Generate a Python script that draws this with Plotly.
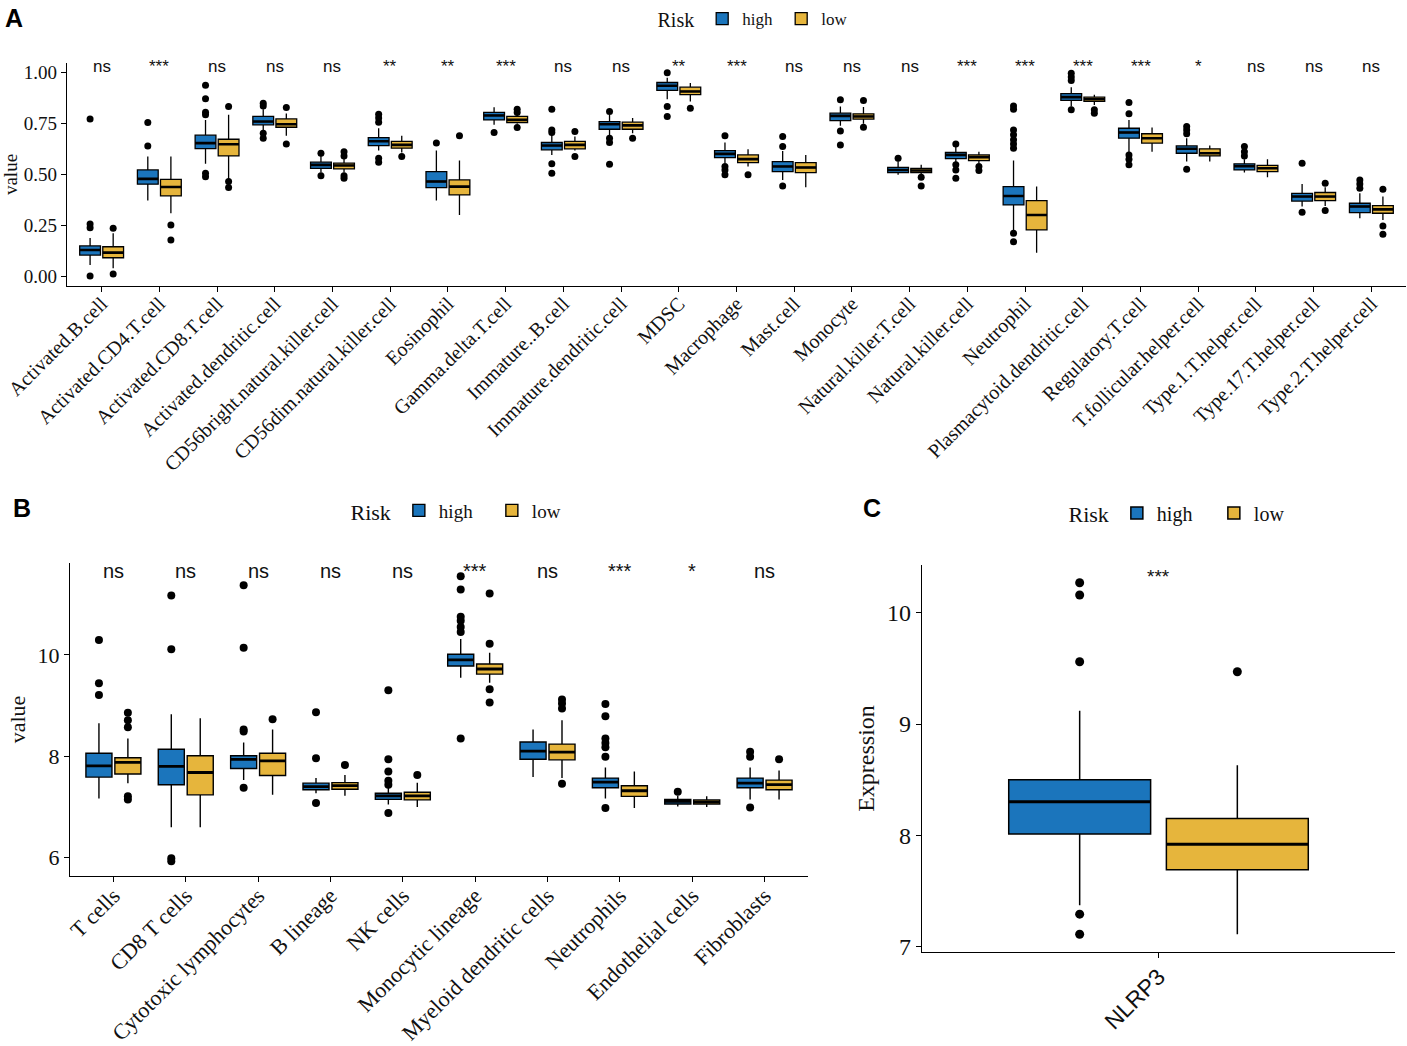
import plotly.graph_objects as go

HIGH_COLOR = "#1B75BC"
LOW_COLOR = "#E6B53C"
SERIF = "Liberation Serif"
SANS = "Liberation Sans"

# ---------------- panel A : ssGSEA immune cells
A_CELLS = [
    "Activated.B.cell", "Activated.CD4.T.cell", "Activated.CD8.T.cell",
    "Activated.dendritic.cell", "CD56bright.natural.killer.cell",
    "CD56dim.natural.killer.cell", "Eosinophil", "Gamma.delta.T.cell",
    "Immature..B.cell", "Immature.dendritic.cell", "MDSC", "Macrophage",
    "Mast.cell", "Monocyte", "Natural.killer.T.cell", "Natural.killer.cell",
    "Neutrophil", "Plasmacytoid.dendritic.cell", "Regulatory.T.cell",
    "T.follicular.helper.cell", "Type.1.T.helper.cell", "Type.17.T.helper.cell",
    "Type.2.T.helper.cell",
]
A_SIG = ["ns", "***", "ns", "ns", "ns", "**", "**", "***", "ns", "ns", "**", "***",
         "ns", "ns", "ns", "***", "***", "***", "***", "*", "ns", "ns", "ns"]

A_HIGH_Q1 = [0.103, 0.452, 0.627, 0.744, 0.530, 0.642, 0.435, 0.768, 0.621, 0.722, 0.913, 0.583,
             0.514, 0.765, 0.509, 0.578, 0.350, 0.864, 0.678, 0.604, 0.522, 0.369, 0.312]
A_HIGH_MED = [0.128, 0.478, 0.654, 0.760, 0.547, 0.663, 0.465, 0.790, 0.642, 0.747, 0.936, 0.601,
              0.539, 0.788, 0.522, 0.596, 0.394, 0.880, 0.706, 0.626, 0.540, 0.391, 0.342]
A_HIGH_Q3 = [0.148, 0.522, 0.693, 0.785, 0.560, 0.681, 0.514, 0.805, 0.657, 0.760, 0.952, 0.617,
             0.563, 0.801, 0.535, 0.608, 0.440, 0.897, 0.727, 0.640, 0.552, 0.407, 0.358]
A_HIGH_LO = [0.054, 0.371, 0.552, 0.711, 0.509, 0.617, 0.371, 0.744, 0.596, 0.690, 0.870, 0.555,
             0.473, 0.739, 0.498, 0.560, 0.218, 0.834, 0.604, 0.563, 0.509, 0.342, 0.284]
A_HIGH_HI = [0.187, 0.588, 0.768, 0.820, 0.590, 0.727, 0.617, 0.830, 0.695, 0.793, 0.975, 0.657,
             0.615, 0.834, 0.565, 0.637, 0.568, 0.929, 0.768, 0.678, 0.575, 0.453, 0.407]
A_HIGH_OUT = [
    [0.772, 0.256, 0.238, 0.0], [0.755, 0.640], [0.938, 0.872, 0.806, 0.793, 0.506, 0.489],
    [0.850, 0.837, 0.703, 0.678], [0.604, 0.493], [0.796, 0.777, 0.757, 0.580, 0.560],
    [0.654], [0.706], [0.821, 0.719, 0.706, 0.552, 0.506], [0.810, 0.678, 0.657, 0.550],
    [1.000, 0.834, 0.785], [0.690, 0.539, 0.522, 0.498], [0.686, 0.637, 0.443],
    [0.867, 0.714, 0.645], [0.580], [0.649, 0.547, 0.522, 0.481],
    [0.837, 0.821, 0.719, 0.695, 0.670, 0.650, 0.629, 0.210, 0.169],
    [0.998, 0.979, 0.962, 0.818], [0.854, 0.798, 0.596, 0.575, 0.547],
    [0.736, 0.719, 0.700, 0.525], [0.637, 0.612, 0.591], [0.555, 0.314],
    [0.473, 0.453, 0.432],
]

A_LOW_Q1 = [0.090, 0.394, 0.591, 0.732, 0.527, 0.629, 0.399, 0.755, 0.626, 0.722, 0.892, 0.558,
            0.509, 0.772, 0.509, 0.568, 0.227, 0.859, 0.654, 0.591, 0.514, 0.371, 0.309]
A_LOW_MED = [0.115, 0.438, 0.648, 0.747, 0.544, 0.645, 0.440, 0.768, 0.645, 0.741, 0.908, 0.575,
             0.534, 0.785, 0.519, 0.585, 0.300, 0.870, 0.678, 0.604, 0.530, 0.391, 0.328]
A_LOW_Q3 = [0.144, 0.476, 0.673, 0.773, 0.555, 0.662, 0.473, 0.785, 0.662, 0.757, 0.929, 0.596,
            0.558, 0.798, 0.530, 0.596, 0.371, 0.880, 0.700, 0.626, 0.544, 0.411, 0.346]
A_LOW_LO = [0.038, 0.309, 0.473, 0.690, 0.509, 0.608, 0.300, 0.749, 0.617, 0.703, 0.859, 0.539,
            0.437, 0.749, 0.498, 0.555, 0.115, 0.842, 0.612, 0.563, 0.486, 0.345, 0.276]
A_LOW_HI = [0.210, 0.588, 0.793, 0.800, 0.580, 0.690, 0.568, 0.795, 0.686, 0.777, 0.949, 0.624,
            0.596, 0.831, 0.547, 0.612, 0.440, 0.892, 0.731, 0.642, 0.575, 0.437, 0.391]
A_LOW_OUT = [
    [0.235, 0.010], [0.251, 0.177], [0.834, 0.465, 0.435], [0.829, 0.649],
    [0.612, 0.591, 0.493, 0.481], [0.588], [0.690], [0.821, 0.805, 0.731],
    [0.711, 0.588], [0.678], [0.826], [0.498], [], [0.864, 0.732], [0.486, 0.443],
    [0.539, 0.519], [], [0.818, 0.801], [], [], [], [0.456, 0.322], [0.427, 0.246, 0.205],
]

# ---------------- panel B : MCP-counter
B_CELLS = ["T cells", "CD8 T cells", "Cytotoxic lymphocytes", "B lineage", "NK cells",
           "Monocytic lineage", "Myeloid dendritic cells", "Neutrophils",
           "Endothelial cells", "Fibroblasts"]
B_SIG = ["ns", "ns", "ns", "ns", "ns", "***", "ns", "***", "*", "ns"]

B_HIGH_Q1 = [7.59, 7.44, 7.76, 7.34, 7.15, 9.78, 7.94, 7.38, 7.06, 7.38]
B_HIGH_MED = [7.81, 7.80, 7.94, 7.40, 7.22, 9.90, 8.10, 7.49, 7.11, 7.47]
B_HIGH_Q3 = [8.06, 8.14, 8.01, 7.47, 7.27, 10.01, 8.28, 7.57, 7.15, 7.57]
B_HIGH_LO = [7.17, 6.60, 7.53, 7.27, 7.05, 9.55, 7.59, 7.17, 7.01, 7.15]
B_HIGH_HI = [8.65, 8.83, 8.27, 7.57, 7.38, 10.31, 8.53, 7.78, 7.22, 7.78]
B_HIGH_OUT = [
    [10.29, 9.44, 9.21], [11.17, 10.11, 5.99, 5.93], [11.37, 10.14, 8.53, 8.49, 7.38],
    [8.87, 7.96, 7.08], [9.30, 7.94, 7.70, 7.52, 7.44, 6.88],
    [11.55, 11.29, 10.75, 10.67, 10.55, 10.45, 8.35], [],
    [9.03, 8.79, 8.35, 8.26, 8.18, 7.99, 6.98], [7.30], [8.09, 7.99, 6.99],
]

B_LOW_Q1 = [7.65, 7.24, 7.62, 7.35, 7.14, 9.62, 7.93, 7.21, 7.06, 7.34]
B_LOW_MED = [7.88, 7.68, 7.91, 7.42, 7.22, 9.72, 8.08, 7.32, 7.10, 7.44]
B_LOW_Q3 = [7.97, 8.01, 8.06, 7.48, 7.29, 9.82, 8.24, 7.42, 7.14, 7.53]
B_LOW_LO = [7.47, 6.60, 7.24, 7.22, 7.00, 9.45, 7.57, 6.98, 7.00, 7.15]
B_LOW_HI = [8.35, 8.75, 8.53, 7.63, 7.48, 10.04, 8.71, 7.70, 7.21, 7.72]
B_LOW_OUT = [
    [8.86, 8.71, 8.57, 7.21, 7.15], [], [8.73], [7.83], [7.63],
    [11.21, 10.22, 9.32, 9.06], [9.12, 9.04, 8.94, 7.46], [], [], [7.94],
]

# ---------------- panel C : NLRP3 expression
C_GENES = ["NLRP3"]
C_SIG = ["***"]
C_HIGH_Q1, C_HIGH_MED, C_HIGH_Q3 = [8.01], [8.30], [8.50]
C_HIGH_LO, C_HIGH_HI = [7.37], [9.12]
C_HIGH_OUT = [[10.27, 10.16, 9.56, 7.29, 7.11]]
C_LOW_Q1, C_LOW_MED, C_LOW_Q3 = [7.69], [7.92], [8.15]
C_LOW_LO, C_LOW_HI = [7.11], [8.63]
C_LOW_OUT = [[9.47]]

FIG_W, FIG_H = 1407, 1046


def fx(px):
    return px / FIG_W


def fy(py):
    return 1 - py / FIG_H


def add_group(fig, cats, q1, med, q3, lo, hi, out, name, color, panel, xa, ya, legend,
              line_w, dot):
    fig.add_trace(go.Box(
        x=cats, y=out, q1=q1, median=med, q3=q3, lowerfence=lo, upperfence=hi,
        boxpoints="all", pointpos=0, jitter=0,
        name=name, legendgroup=name, offsetgroup=name, alignmentgroup=panel,
        fillcolor=color, line=dict(color="black", width=line_w), whiskerwidth=0,
        marker=dict(color="black", size=dot),
        xaxis=xa, yaxis=ya, legend=legend,
    ))
    # ggplot draws the median thicker than the box outline
    fig.add_trace(go.Box(
        x=cats, q1=med, median=med, q3=med, lowerfence=med, upperfence=med,
        name=name, legendgroup=name, offsetgroup=name, alignmentgroup=panel,
        fillcolor="rgba(0,0,0,0)", line=dict(color="black", width=line_w * 2),
        whiskerwidth=0, showlegend=False, hoverinfo="skip",
        xaxis=xa, yaxis=ya, legend=legend,
    ))


fig = go.Figure()

add_group(fig, A_CELLS, A_HIGH_Q1, A_HIGH_MED, A_HIGH_Q3, A_HIGH_LO, A_HIGH_HI, A_HIGH_OUT,
          "high", HIGH_COLOR, "A", "x", "y", "legend", 1.3, 7)
add_group(fig, A_CELLS, A_LOW_Q1, A_LOW_MED, A_LOW_Q3, A_LOW_LO, A_LOW_HI, A_LOW_OUT,
          "low", LOW_COLOR, "A", "x", "y", "legend", 1.3, 7)
add_group(fig, B_CELLS, B_HIGH_Q1, B_HIGH_MED, B_HIGH_Q3, B_HIGH_LO, B_HIGH_HI, B_HIGH_OUT,
          "high", HIGH_COLOR, "B", "x2", "y2", "legend2", 1.4, 8)
add_group(fig, B_CELLS, B_LOW_Q1, B_LOW_MED, B_LOW_Q3, B_LOW_LO, B_LOW_HI, B_LOW_OUT,
          "low", LOW_COLOR, "B", "x2", "y2", "legend2", 1.4, 8)
add_group(fig, C_GENES, C_HIGH_Q1, C_HIGH_MED, C_HIGH_Q3, C_HIGH_LO, C_HIGH_HI, C_HIGH_OUT,
          "high", HIGH_COLOR, "C", "x3", "y3", "legend3", 1.5, 9)
add_group(fig, C_GENES, C_LOW_Q1, C_LOW_MED, C_LOW_Q3, C_LOW_LO, C_LOW_HI, C_LOW_OUT,
          "low", LOW_COLOR, "C", "x3", "y3", "legend3", 1.5, 9)

axis_style = dict(showline=True, linecolor="black", linewidth=1.4, ticks="outside",
                  ticklen=5, tickwidth=1.2, tickcolor="black", showgrid=False,
                  zeroline=False, automargin=False)


def legend_style(x, y, title_size, size, entry_w):
    return dict(orientation="h", x=x, y=y, xanchor="center", yanchor="middle",
                title=dict(text="Risk", side="left",
                           font=dict(family=SERIF, size=title_size, color="#111")),
                font=dict(family=SERIF, size=size, color="#111"), itemwidth=30,
                entrywidth=entry_w, bgcolor="rgba(0,0,0,0)")


fig.update_layout(
    width=FIG_W, height=FIG_H, margin=dict(l=0, r=0, t=0, b=0),
    plot_bgcolor="white", paper_bgcolor="white",
    font=dict(family=SERIF, color="#111"),
    boxmode="group", boxgap=0.2, boxgroupgap=0.1,
    xaxis=dict(axis_style, domain=[fx(67), fx(1406)], anchor="y", type="category",
               range=[-0.6, len(A_CELLS) - 0.4], tickangle=-45, ticklabelstandoff=-8,
               tickfont=dict(family=SERIF, size=20, color="#111")),
    yaxis=dict(axis_style, domain=[fy(286), fy(63)], anchor="x", range=[-0.049, 1.048],
               tickvals=[0, 0.25, 0.5, 0.75, 1.0], tickformat=".2f",
               tickfont=dict(family=SERIF, size=19, color="#111"),
               title=dict(text="value", standoff=3,
                          font=dict(family=SERIF, size=19, color="#111"))),
    xaxis2=dict(axis_style, domain=[fx(70), fx(808)], anchor="y2", type="category",
                range=[-0.6, len(B_CELLS) - 0.4], tickangle=-45, ticklabelstandoff=-8,
                tickfont=dict(family=SERIF, size=22, color="#111")),
    yaxis2=dict(axis_style, domain=[fy(876), fy(563)], anchor="x2", range=[5.64, 11.81],
                tickvals=[6, 8, 10], tickfont=dict(family=SERIF, size=22, color="#111"),
                title=dict(text="value", standoff=5,
                           font=dict(family=SERIF, size=22, color="#111"))),
    xaxis3=dict(axis_style, domain=[fx(922), fx(1395)], anchor="y3", type="category",
                range=[-0.6, 0.6], tickangle=-45, ticklabelstandoff=-4,
                tickfont=dict(family=SANS, size=23, color="#111")),
    yaxis3=dict(axis_style, domain=[fy(952), fy(565)], anchor="x3", range=[6.95, 10.43],
                tickvals=[7, 8, 9, 10], tickfont=dict(family=SERIF, size=24, color="#111"),
                title=dict(text="Expression", standoff=5,
                           font=dict(family=SERIF, size=24, color="#111"))),
    legend=legend_style(fx(758), fy(19), 20, 17, 34),
    legend2=legend_style(fx(467), fy(511), 22, 19, 48),
    legend3=legend_style(fx(1189), fy(513), 22, 20, 52),
    showlegend=True,
)

# significance labels above every comparison
for cats, sigs, xa, ya, y_lab, size in [
    (A_CELLS, A_SIG, "x", "y", 1.03, 17),
    (B_CELLS, B_SIG, "x2", "y2", 11.66, 20),
    (C_GENES, C_SIG, "x3", "y3", 10.33, 19),
]:
    for cat, sig in zip(cats, sigs):
        fig.add_annotation(x=cat, y=y_lab, xref=xa, yref=ya, text=sig, showarrow=False,
                           font=dict(family=SANS, size=size, color="#111"))

for letter, px, py in [("A", 14, 18), ("B", 22, 508), ("C", 872, 508)]:
    fig.add_annotation(x=fx(px), y=fy(py), xref="paper", yref="paper",
                       xanchor="center", yanchor="middle",
                       text=f"<b>{letter}</b>", showarrow=False,
                       font=dict(family=SANS, size=25, color="black"))

# drop the browser's default 8px body margin so the figure fills the window
fig.write_html("out.html", config={"displayModeBar": False},
               post_script="document.body.style.margin = '0';")
